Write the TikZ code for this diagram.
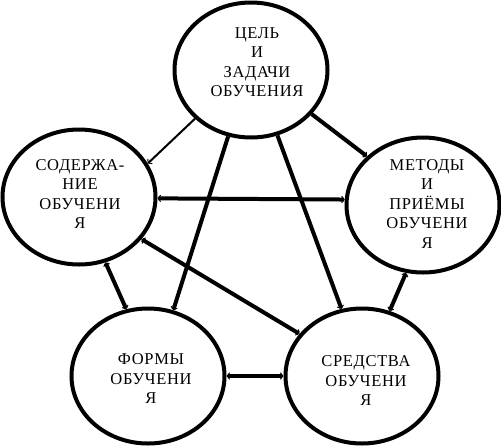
\documentclass[tikz,border=0pt]{standalone}
\usepackage{fontspec}
\setmainfont{Liberation Serif}
\usetikzlibrary{arrows.meta, shapes.geometric}

\begin{document}
\begin{tikzpicture}[x=1pt, y=-1pt,
        krug/.style={draw, ellipse, line width=4pt, minimum width=153pt, minimum height=135pt, inner sep=0pt},
        tekst/.style={align=center, font=\fontsize{16.5}{19.5}\selectfont\addfontfeature{LetterSpace=4}},
        barb/.tip={Straight Barb[length=2.5pt, width=6.5pt, line width=1pt]},
        svyaz/.style={line width=4pt}
    ]
        \useasboundingbox (0,0) rectangle (501,445);

        % circles
        \node[krug] (cel) at (251,70) {};
        \node[krug] (soderzh) at (79,197) {};
        \node[krug] (metody) at (423,205) {};
        \node[krug] (formy) at (148,376) {};
        \node[krug] (sredstva) at (362,376) {};

        \node[tekst] (celtxt) at (257,62) {ЦЕЛЬ\\И\\ЗАДАЧИ\\ОБУЧЕНИЯ};
        \node[tekst] (soderzhtxt) at (80,194) {СОДЕРЖА-\\НИЕ\\ОБУЧЕНИ\\Я};
        \node[tekst] (metodytxt) at (427,204) {МЕТОДЫ\\И\\ПРИЁМЫ\\ОБУЧЕНИ\\Я};
        \node[tekst] (formytxt) at (151,379) {ФОРМЫ\\ОБУЧЕНИ\\Я};
        \node[tekst] (sredstvatxt) at (366,381) {СРЕДСТВА\\ОБУЧЕНИ\\Я};

        % arrows from the top circle
        \draw[line width=2pt, -barb] (cel.221) -- (soderzh.26);
        \draw[svyaz, -barb] (cel.324) -- (metody.139);
        \draw[svyaz, -barb] (cel.251) -- (formy.69);
        \draw[svyaz, -barb] (cel.292) -- (sredstva.107);

        % arrows both ways
        \draw[svyaz, barb-barb] (soderzh.-1) -- (metody.176);
        \draw[svyaz, barb-barb] (soderzh.-34) -- (sredstva.146);
        \draw[svyaz, barb-barb] (formy.east) -- (sredstva.west);
        \draw[svyaz, barb-barb] (soderzh.-68) -- (formy.108);
        \draw[svyaz, barb-barb] (metody.256) -- (sredstva.67);

    \end{tikzpicture}
\end{document}
